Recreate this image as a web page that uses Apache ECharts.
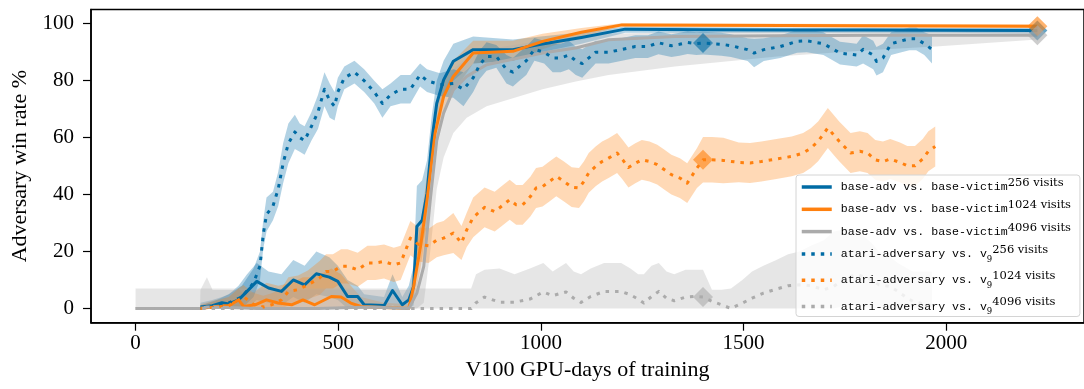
<!DOCTYPE html>
<html>
<head>
<meta charset="utf-8">
<script src="https://cdn.jsdelivr.net/npm/echarts@6/dist/echarts.min.js"></script>
<style>
  html, body { margin: 0; padding: 0; background: #fff; }
  #chart { width: 1084px; height: 389px; }
</style>
</head>
<body>
<div id="chart"></div>
<script>
// ---- axis ticks ----
const xTicks = [0, 500, 1000, 1500, 2000];
const yTicks = [0, 20, 40, 60, 80, 100];

// ---- base-adv vs. base-victim, 256 visits ----
const adv256X  = [160,189,213,230,254,275,299,328,360,389,417,446,478,499,523,548,564,613,634,658,674,686,694,707,719,731,743,760,784,833,931,1000,1100,1208,1400,1600,1800,2000,2225];
const adv256Y  = [0.5,1,2,1.6,3,6,9.5,7.2,6,10,8.3,12.2,11,9.5,4.2,4.2,1.3,1,6.3,1.3,3,7.7,28.8,31,40.5,59,72,80.3,86.8,90.9,90.9,92.8,95.2,98.1,97.9,97.8,97.8,97.7,97.6];
const adv256Lo = [0,0,0,0,0,0,3,2,1,4,2,5,4,3,0,0,0,0,1,0,0,1,18,22,30,50,64,74,80,86,87,90,93,96.8,96.8,96.8,96.8,96.8,96.5];
const adv256Hi = [2,3,4,5,8,12,16,13,12,17,15,20,18,15,10,8,5,4,12,4,8,15,43,45,52,68,80,87,93,95.5,94.5,95.5,97,99,98.8,98.6,98.6,98.5,98.5];

// ---- base-adv vs. base-victim, 1024 visits ----
const adv1024X  = [160,197,230,254,267,295,323,352,385,413,442,483,507,531,556,613,674,686,703,719,739,760,784,833,931,1004,1100,1200,1400,1800,2225];
const adv1024Y  = [0,0.7,1,3,0.7,1.3,3,1.9,1.3,3,1.3,4.2,4,1.9,0.7,0.3,0,7.7,21.8,38,61.6,74.5,81.5,89.7,90.3,93.8,97,99.6,99.5,99.3,99.1];
const adv1024Lo = [0,0,0,0,0,0,0,0,0,0,0,0,0,0,0,0,0,2,14,30,54,68,76,86,87,91,95.5,99,98.9,98.7,98.5];
const adv1024Hi = [1.5,3,4,7,5,6,9,8,9,11,11,14,12,8,4,2,1.5,14,30,47,69,81,87,94,94,96.5,98.5,100.2,100.1,99.9,99.7];

// ---- base-adv vs. base-victim, 4096 visits ----
const adv4096X  = [0,159,160,176,190,300,450,580,674,694,711,727,743,760,784,817,866,1004,1086,1167,1330,1583,1827,1974,2225];
const adv4096Y  = [0,0,0,0.5,0.5,0,0,0.5,0,5.4,14.8,38,59,68.6,76.8,81.5,85.6,89.7,91.5,94.4,95.5,95.8,96,96,96];
const adv4096Lo = [0,0,0,0,0,0,0,0,0,0,2,20,42,53,61.6,67,71,77,79.7,82,85,88.5,90.9,92,94.5];
const adv4096Hi = [0,0,6.5,11,6.5,6.5,6.5,6.5,6.5,12,25,48,66,76,84,88,91,94,95.5,96.5,97,97.2,97.3,97.3,97.4];

// ---- atari-adversary vs. v9, 256 visits ----
const atari256X = [160,200,230,262,291,307,315,323,339,352,
  364,377,393,405,417,434,450,466,479,491,
  499,515,540,564,589,609,629,654,678,702,
  719,751,784,809,833,849,866,890,915,931,
  947,964,984,1008,1029,1049,1069,1086,1102,1135,
  1167,1200,1233,1264,1290,1322,1342,1362,1384,1400,
  1445,1469,1510,1526,1550,1591,1632,1656,1697,1738,
  1779,1795,1820,1828,1844,1864,1885,1909,1926,1946,
  1965];
const atari256Y = [0,1,2,4,9,15,26,33,36,42,
  51,58,62,60,59,64,69,77,73,71,
  76,81,83,80,76,72,75,77,77,82,
  80,78.6,79,77,81,85.6,88.5,88.5,84,83,
  85,87,91,90,88,88,89,87,86,90,
  90,91,92,92,93.3,92.3,92.8,93.4,93,93.2,
  92.8,92.3,90.9,89.7,90.9,92,93.8,94,93,89.7,
  89,91,89,86.8,88,93,93.8,94.7,94.7,93,
  91];
const atari256Spread = [1,2,3,4,5,5,5,6,5,6,
  7,7,6,5,5,5,6,6,6,5,
  5,4,4,4,4,5,4,5,5,4,
  4,4,5,6,5,5,5,4,5,5,
  5,5,4,4,5,5,5,5,5,4,
  4,4,4,4,4,4,4,4,4,4,
  4,4,4,5,4,4,4,4,4,4,
  4,5,5,5,5,4,4,4,4,4,
  5];

// ---- atari-adversary vs. v9, 1024 visits ----
const atari1024X = [160,197,230,254,266,290,315,336,360,377,
  401,425,454,470,487,507,523,548,572,592,
  613,637,654,670,678,698,723,743,760,784,
  804,817,833,861,886,902,923,939,955,974,
  988,1004,1021,1038,1057,1076,1094,1106,1118,1135,
  1151,1167,1188,1202,1216,1233,1249,1268,1287,1305,
  1322,1343,1361,1385,1400,1422,1450,1488,1516,1544,
  1581,1619,1647,1666,1684,1708,1722,1736,1764,1787,
  1806,1825,1844,1862,1886,1904,1923,1942,1956,1973];
const atari1024Y = [0,0.5,1,3,4.2,1.5,0.5,1.3,3,6,
  6.6,8.3,10.7,13,13,14.8,14.8,13.6,16,16,
  16.5,15.3,16,21.8,24.7,22.5,22,24,24.7,26.5,
  23,27.6,32,35.5,34,35.8,38.2,36.4,36.4,39.3,
  42.3,42.8,44.6,46.4,44.6,42.6,42.3,44.6,47.6,49.9,
  51.6,52.8,54.6,52.2,49.5,51,52.2,51.6,50.5,48.7,
  47,45.8,44,49.3,52.2,52.2,52,51.3,51.1,51.6,
  52.5,53.4,54.6,56.3,58.7,63.4,61,58.7,54.6,55.2,
  54.6,52.2,51.6,52.5,51.3,50.1,50.1,52.5,55.2,56.9];
const atari1024Spread = [1,2,3,4,4,4,4,4,4,5,
  5,5,6,6,6,6,6,6,6,6,
  6,6,6,6,6,6,6,6,6,7,
  6,6,7,7,7,7,7,7,7,7,
  7,7,7,7,7,7,7,7,7,7,
  7,7,7,7,7,7,7,7,7,7,
  7,7,7,7,8,8,8,7,7,7,
  7,7,7,7,7,7,7,7,7,7,
  7,7,7,7,7,7,7,7,7,7];

// ---- atari-adversary vs. v9, 4096 visits ----
const atari4096X = [0,160,300,500,700,828,840,861,898,935,
  973,1006,1029,1062,1081,1099,1123,1156,1198,1221,
  1240,1254,1273,1291,1310,1329,1357,1380,1400,1422,
  1446,1469,1497,1521,1549,1581,1610,1638,1666,1698,
  1722,1759,1783,1816,1834,1862,1881,1904,1918,1965];
const atari4096Y = [0,0,0,0,0,0,2,4,2.2,2.2,
  3.3,5.8,4.5,5.8,3.6,2.1,4.2,6,6,4.8,
  3.3,1.9,4.2,6,3.6,2.7,4,4.2,4,2.5,
  1.3,0,1.9,3.6,5.4,6.8,8,8.3,8,6.6,
  7.7,11.2,11.8,10.1,8.3,7.7,6,3.6,2.5,1];
const atari4096Lo = [0,0,0,0,0,0,0,0,0,0,
  0,0,0,0,0,0,0,0,0,0,
  0,0,0,0,0,0,0,0,0,0,
  0,0,0,0,0,0,0,0,0,0,
  0,1,1,0,0,0,0,0,0,0];
const atari4096Hi = [7,7,7,7,7,7,12,13.6,14,12,
  14,16,13,16,13,12,14,16,16,14,
  12,12,15,16,13,12,13.6,13.6,13.6,6.6,
  6.6,7,10,13,15,17,19,20,22,24,
  27,28,27,23,20,18,16,14,13,13];

// Symmetric spreads become band bounds (a win rate never drops below 0).
const lowerOf = (ys, s) => ys.map((v, i) => Math.max(0, v - s[i]));
const upperOf = (ys, s) => ys.map((v, i) => v + s[i]);

const BLUE = [0, 107, 164], ORANGE = [255, 128, 14], GRAY = [171, 171, 171];
const rgba = (c, a) => `rgba(${c[0]},${c[1]},${c[2]},${a})`;

const runs = [
  { label: 'base-adv vs. base-victim', sub: '', visits: '256 visits', color: BLUE, dotted: false,
    x: adv256X, y: adv256Y, lo: adv256Lo, hi: adv256Hi, markX: 2225 },
  { label: 'base-adv vs. base-victim', sub: '', visits: '1024 visits', color: ORANGE, dotted: false,
    x: adv1024X, y: adv1024Y, lo: adv1024Lo, hi: adv1024Hi, markX: 2225 },
  { label: 'base-adv vs. base-victim', sub: '', visits: '4096 visits', color: GRAY, dotted: false,
    x: adv4096X, y: adv4096Y, lo: adv4096Lo, hi: adv4096Hi, markX: 2225 },
  { label: 'atari-adversary vs. v', sub: '9', visits: '256 visits', color: BLUE, dotted: true,
    x: atari256X, y: atari256Y, lo: lowerOf(atari256Y, atari256Spread), hi: upperOf(atari256Y, atari256Spread), markX: 1400 },
  { label: 'atari-adversary vs. v', sub: '9', visits: '1024 visits', color: ORANGE, dotted: true,
    x: atari1024X, y: atari1024Y, lo: lowerOf(atari1024Y, atari1024Spread), hi: upperOf(atari1024Y, atari1024Spread), markX: 1400 },
  { label: 'atari-adversary vs. v', sub: '9', visits: '4096 visits', color: GRAY, dotted: true,
    x: atari4096X, y: atari4096Y, lo: atari4096Lo, hi: atari4096Hi, markX: 1400 }
];
runs.forEach(r => { r.name = r.label + r.sub + ' ' + r.visits; });

const SERIF = 'Liberation Serif';
const series = [];

// shaded spread bands, drawn first
runs.forEach(r => {
  series.push({
    type: 'custom',
    silent: true,
    z: 1,
    data: [[r.x[0], r.y[0]]],
    renderItem: (params, api) => {
      const pts = [];
      for (let i = 0; i < r.x.length; i++) pts.push(api.coord([r.x[i], r.hi[i]]));
      for (let i = r.x.length - 1; i >= 0; i--) pts.push(api.coord([r.x[i], r.lo[i]]));
      return { type: 'polygon', shape: { points: pts }, style: { fill: rgba(r.color, 0.3) } };
    }
  });
});

// mean curves
runs.forEach(r => {
  series.push({
    name: r.name,
    type: 'line',
    z: 2,
    symbol: 'none',
    showSymbol: false,
    data: r.x.map((v, i) => [v, r.y[i]]),
    lineStyle: {
      color: rgba(r.color, 1),
      width: 3,
      type: r.dotted ? [3.5, 6] : 'solid',
      cap: 'butt',
      join: 'round'
    },
    itemStyle: { color: rgba(r.color, 1) }
  });
});

// highlighted checkpoints
runs.forEach(r => {
  const i = r.x.indexOf(r.markX);
  series.push({
    type: 'scatter',
    z: 3,
    silent: true,
    symbol: 'diamond',
    symbolSize: 20,
    data: [[r.x[i], r.y[i]]],
    itemStyle: { color: rgba(r.color, 0.75) }
  });
});

const chart = echarts.init(document.getElementById('chart'), null, { renderer: 'canvas' });
chart.setOption({
  animation: false,
  backgroundColor: '#fff',
  grid: { left: 91, top: 9.5, right: -9, bottom: 66.3, show: true, borderColor: '#000', borderWidth: 1.5, backgroundColor: 'transparent' },
  xAxis: {
    type: 'value', min: -110, max: 2340,
    splitLine: { show: false },
    axisLine: { onZero: false, lineStyle: { color: '#000', width: 1.5 } },
    axisTick: { customValues: xTicks, length: 8, lineStyle: { color: '#000', width: 1.2 } },
    axisLabel: { customValues: xTicks, formatter: v => String(v), margin: 10, fontFamily: SERIF, fontSize: 21, color: '#000' },
    name: 'V100 GPU-days of training', nameLocation: 'middle', nameGap: 37,
    nameTextStyle: { fontFamily: SERIF, fontSize: 22, color: '#000' }
  },
  yAxis: {
    type: 'value', min: -5, max: 105,
    splitLine: { show: false },
    axisLine: { onZero: false, lineStyle: { color: '#000', width: 1.5 } },
    axisTick: { customValues: yTicks, length: 8, lineStyle: { color: '#000', width: 1.2 } },
    axisLabel: { customValues: yTicks, formatter: v => String(v), margin: 17, fontFamily: SERIF, fontSize: 21, color: '#000' },
    name: 'Adversary win rate %', nameLocation: 'middle', nameGap: 57, nameRotate: 90,
    nameTextStyle: { fontFamily: SERIF, fontSize: 22, color: '#000' }
  },
  legend: {
    data: runs.map(r => r.name),
    orient: 'vertical',
    left: 796, top: 175,
    padding: [2, 9, 0, 4],
    itemWidth: 30, itemHeight: 12, itemGap: 6.3,
    backgroundColor: 'rgba(255,255,255,0.8)',
    borderColor: '#d4d4d4', borderWidth: 1, borderRadius: 3,
    selectedMode: false,
    itemStyle: { opacity: 0 },
    lineStyle: { width: 3.5 },
    formatter: name => {
      const r = runs.find(d => d.name === name);
      return '{m|' + r.label + '}' + (r.sub ? '{sub|' + r.sub + '}' : '') + '{sup|' + r.visits + '}';
    },
    textStyle: {
      padding: [0, 0, 0, 4],
      rich: {
        m: { fontFamily: 'Liberation Mono', fontSize: 11.6, lineHeight: 20, color: '#000' },
        sub: { fontFamily: 'DejaVu Serif', fontSize: 8.5, lineHeight: 17, verticalAlign: 'bottom', color: '#000' },
        sup: { fontFamily: 'DejaVu Serif', fontSize: 11.5, lineHeight: 9, verticalAlign: 'top', color: '#000' }
      }
    }
  },
  series: series
});
</script>
</body>
</html>
